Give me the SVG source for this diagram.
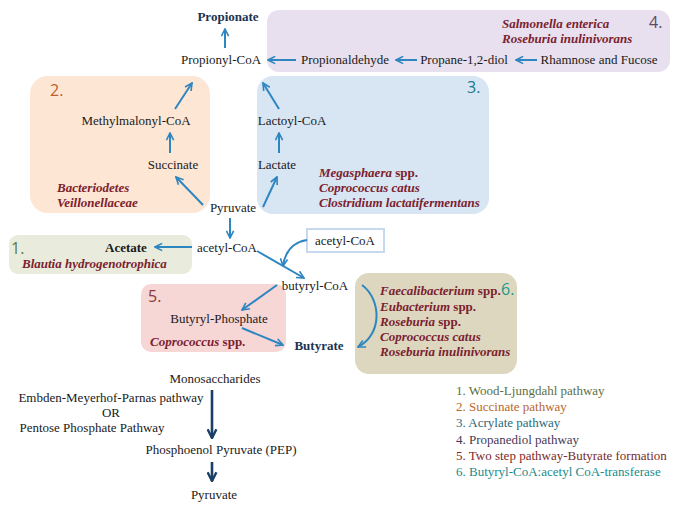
<svg xmlns="http://www.w3.org/2000/svg" width="688" height="510" viewBox="0 0 688 510">
<defs>
<marker id="ah" viewBox="0 0 10 10" refX="9" refY="5" markerWidth="9" markerHeight="9" markerUnits="userSpaceOnUse" orient="auto">
<path d="M1,1 L9,5 L1,9" fill="none" stroke="#2e86c1" stroke-width="1.8"/>
</marker>
<marker id="ahd" viewBox="0 0 10 10" refX="9" refY="5" markerWidth="11" markerHeight="11" markerUnits="userSpaceOnUse" orient="auto">
<path d="M1,1 L9,5 L1,9" fill="none" stroke="#1b3f66" stroke-width="2.2"/>
</marker>
</defs>
<style>
text{font-family:"Liberation Serif","Times New Roman",serif;font-size:13px;fill:#1a1a1a}
text.b{font-weight:bold}
text.prod{font-weight:bold;fill:#1b3352}
text.sp{font-weight:bold;font-style:italic;fill:#7b2230}
tspan.n{font-style:normal}
text.num{font-family:"Open Sans","Noto Sans",sans-serif;font-size:16px}
text.k1{fill:#5d7040}
text.k2{fill:#b8672a}
text.k3{fill:#2a6a7a}
text.k4{fill:#463a58}
text.k5{fill:#7a2a2a}
text.k6{fill:#1a8a8a}
text.n1{fill:#5a7a3a}
text.n2{fill:#c0602a}
text.n3{fill:#1a7a8a}
text.n4{fill:#5a4a6a}
text.n5{fill:#8a3a3a}
text.n6{fill:#1a9a8a}
.c{stroke:#2e86c1;stroke-width:2;fill:none;marker-end:url(#ah)}
.d{stroke:#1b3f66;stroke-width:2.6;fill:none;marker-end:url(#ahd)}
</style>

<g id="box4"><rect x="267" y="10" width="403" height="62" rx="12" fill="#e8e0ee"/>
<text class="num n4" x="649" y="28">4.</text>
<text class="sp" x="502" y="28">Salmonella enterica</text>
<text class="sp" x="502" y="43">Roseburia inulinivorans</text></g>
<g id="box2"><rect x="30" y="76" width="180" height="137" rx="18" fill="#fde6d4"/>
<text class="num n2" x="50" y="96">2.</text>
<text class="sp" x="57" y="192">Bacteriodetes</text>
<text class="sp" x="57" y="207">Veillonellaceae</text></g>
<g id="box3"><rect x="257" y="76" width="232" height="138" rx="16" fill="#d8e5f3"/>
<text class="num n3" x="467" y="93">3.</text>
<text class="sp" x="319" y="177">Megasphaera <tspan class="n">spp.</tspan></text>
<text class="sp" x="319" y="192">Coprococcus catus</text>
<text class="sp" x="319" y="207">Clostridium lactatifermentans</text></g>
<g id="box1"><rect x="9" y="235" width="183" height="39" rx="9" fill="#e9ecdd"/>
<text class="num n1" x="11" y="254">1.</text>
<text class="b" x="105" y="252">Acetate</text>
<text class="sp" x="22" y="268">Blautia hydrogenotrophica</text></g>
<g id="box5"><rect x="141" y="284" width="145" height="68" rx="10" fill="#f7d6d6"/>
<text class="num n5" x="148" y="302">5.</text>
<text x="219" y="323" text-anchor="middle">Butyryl-Phosphate</text>
<text class="sp" x="150" y="346">Coprococcus <tspan class="n">spp.</tspan></text></g>
<g id="box6"><rect x="355" y="273" width="162" height="101" rx="14" fill="#ddd7bf"/>
<text class="num n6" x="501" y="295">6.</text>
<text class="sp" x="380" y="295">Faecalibacterium <tspan class="n">spp.</tspan></text>
<text class="sp" x="380" y="311">Eubacterium <tspan class="n">spp.</tspan></text>
<text class="sp" x="380" y="326">Roseburia <tspan class="n">spp.</tspan></text>
<text class="sp" x="380" y="341">Coprococcus catus</text>
<text class="sp" x="380" y="356">Roseburia inulinivorans</text></g>
<g id="acetylbox"><rect x="307" y="229" width="77" height="23" fill="#fff" stroke="#c6d9ef" stroke-width="2"/>
<text x="345" y="245" text-anchor="middle">acetyl-CoA</text></g>

<g id="propionate"><text class="prod" x="228" y="21" text-anchor="middle">Propionate</text></g>
<g id="propionylcoa"><text x="221" y="64" text-anchor="middle">Propionyl-CoA</text></g>
<g id="propionaldehyde"><text x="345" y="64" text-anchor="middle">Propionaldehyde</text></g>
<g id="propanediol"><text x="464" y="64" text-anchor="middle">Propane-1,2-diol</text></g>
<g id="rhamnose"><text x="599" y="64" text-anchor="middle">Rhamnose and Fucose</text></g>
<g id="methylmalonyl"><text x="136" y="125" text-anchor="middle">Methylmalonyl-CoA</text></g>
<g id="succinate"><text x="173" y="169" text-anchor="middle">Succinate</text></g>
<g id="lactoyl"><text x="292" y="125" text-anchor="middle">Lactoyl-CoA</text></g>
<g id="lactate"><text x="277" y="169" text-anchor="middle">Lactate</text></g>
<g id="pyruvate"><text x="233" y="212" text-anchor="middle">Pyruvate</text></g>
<g id="acetylcoa"><text x="227" y="252" text-anchor="middle">acetyl-CoA</text></g>
<g id="butyrylcoa"><text x="315" y="290" text-anchor="middle">butyryl-CoA</text></g>
<g id="butyrate"><text class="prod" x="319" y="350" text-anchor="middle">Butyrate</text></g>
<g id="mono"><text x="215" y="383" text-anchor="middle">Monosaccharides</text></g>
<g id="emp"><text x="111" y="402" text-anchor="middle">Embden-Meyerhof-Parnas pathway</text>
<text x="111" y="417" text-anchor="middle">OR</text>
<text x="92" y="432" text-anchor="middle">Pentose Phosphate Pathway</text></g>
<g id="pep"><text x="221" y="454" text-anchor="middle">Phosphoenol Pyruvate (PEP)</text></g>
<g id="pyruvate2"><text x="214" y="499" text-anchor="middle">Pyruvate</text></g>

<g id="legend">
<text class="k1" x="456" y="395">1. Wood-Ljungdahl pathway</text>
<text class="k2" x="456" y="411">2. Succinate pathway</text>
<text class="k3" x="456" y="427">3. Acrylate pathway</text>
<text class="k4" x="456" y="444">4. Propanediol pathway</text>
<text class="k5" x="456" y="460">5. Two step pathway-Butyrate formation</text>
<text class="k6" x="456" y="476">6. Butyryl-CoA:acetyl CoA-transferase</text>
</g>

<g id="connectors">
<line class="c" x1="225" y1="48" x2="225" y2="29"/>
<line class="c" x1="296" y1="60" x2="268" y2="60"/>
<line class="c" x1="417" y1="60" x2="396" y2="60"/>
<line class="c" x1="537" y1="60" x2="516" y2="60"/>
<line class="c" x1="170" y1="153" x2="170" y2="133"/>
<line class="c" x1="175" y1="109" x2="192" y2="83"/>
<line class="c" x1="279" y1="153" x2="279" y2="133"/>
<line class="c" x1="279" y1="109" x2="263" y2="83"/>
<line class="c" x1="203" y1="205" x2="176" y2="177"/>
<line class="c" x1="263" y1="207" x2="277" y2="177"/>
<line class="c" x1="230" y1="218" x2="230" y2="238"/>
<line class="c" x1="192" y1="247" x2="155" y2="247"/>
<line class="c" x1="257" y1="251" x2="304" y2="278"/>
<path class="c" d="M307,240 C293,242 285,252 283,266"/>
<line class="c" x1="277" y1="285" x2="242" y2="310"/>
<line class="c" x1="242" y1="328" x2="283" y2="345"/>
<path class="c" d="M362,285 C382,300 382,335 358,347"/>
<line class="d" x1="212" y1="390" x2="212" y2="438"/>
<line class="d" x1="212" y1="462" x2="212" y2="481"/>
</g>
</svg>
